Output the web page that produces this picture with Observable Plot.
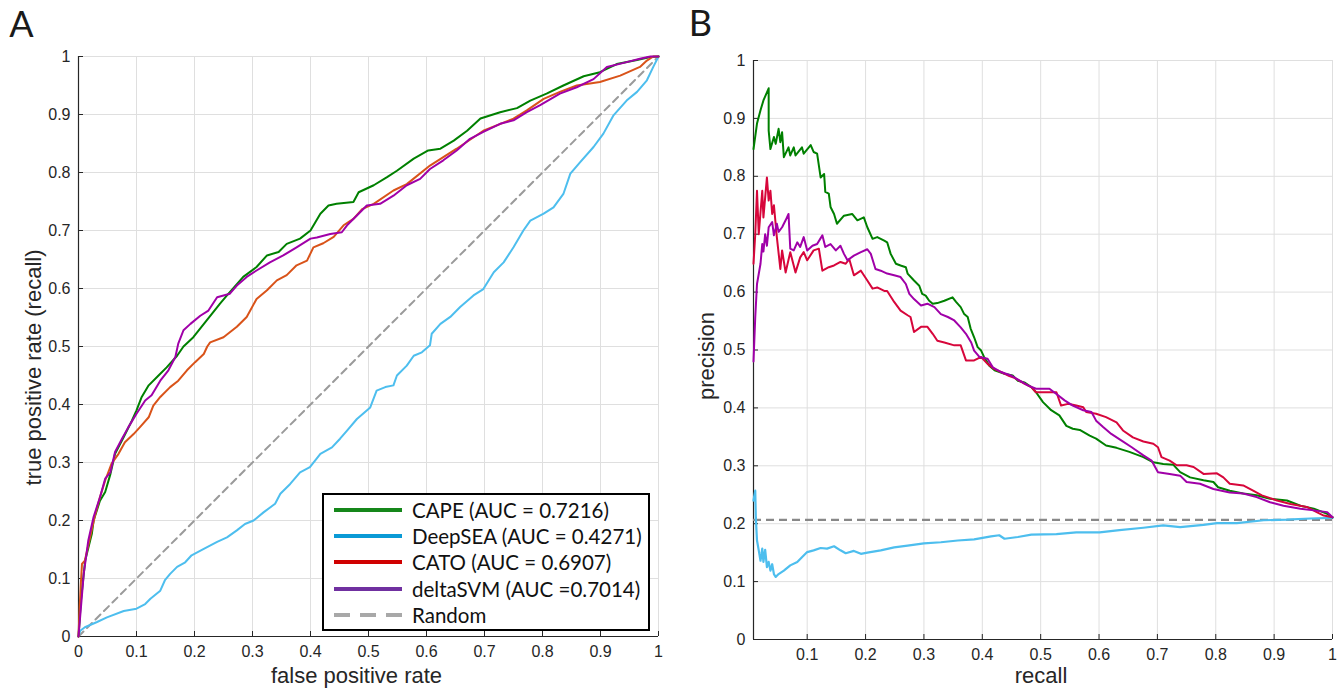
<!DOCTYPE html>
<html>
<head>
<meta charset="utf-8">
<script src="https://cdn.jsdelivr.net/npm/d3@7"></script>
<script src="https://cdn.jsdelivr.net/npm/@observablehq/plot@0.6"></script>
<style>
  body { margin: 0; background: #fff; }
  #wrap { position: relative; width: 1342px; height: 689px; display: flex; overflow: hidden; }
  #wrap svg { display: block; }
  #legend { position: absolute; left: 322px; top: 493px; width: 324px; height: 134px; border: 2px solid #000; background: #fff;
            font-family: Lato, "Open Sans", sans-serif; font-size: 20.5px; color: #111; }
  .row { position: absolute; left: 0; height: 26px; width: 324px; }
  .sw { position: absolute; left: 10px; top: 11px; width: 68px; height: 4px; }
  .lab { position: absolute; left: 88px; top: 0; line-height: 26px; white-space: nowrap; }
</style>
</head>
<body>
<div id="wrap"></div>
<script>
// ---------- data ----------
const ticks01 = [0, 0.1, 0.2, 0.3, 0.4, 0.5, 0.6, 0.7, 0.8, 0.9, 1];
const ticksRecall = [0.1, 0.2, 0.3, 0.4, 0.5, 0.6, 0.7, 0.8, 0.9, 1];

const seriesNames = ["CAPE", "DeepSEA", "CATO", "deltaSVM"];
const legendLabels = ["CAPE (AUC = 0.7216)", "DeepSEA (AUC = 0.4271)", "CATO (AUC = 0.6907)", "deltaSVM (AUC =0.7014)", "Random"];
const legendColors = ["#15871a", "#0a9ad6", "#d00000", "#7030a0", "#a8a8a8"];

// ROC curves: [false positive rate, true positive rate]
const rocCAPE = [[0,0],[0.004,0.06],[0.0115,0.131],[0.023,0.177],[0.026,0.2],[0.037,0.234],[0.046,0.249],[0.055,0.28],[0.063,0.315],[0.078,0.344],[0.092,0.372],[0.10,0.39],[0.109,0.413],[0.121,0.433],[0.138,0.45],[0.152,0.464],[0.17,0.484],[0.181,0.5],[0.198,0.516],[0.221,0.545],[0.244,0.574],[0.256,0.588],[0.284,0.62],[0.307,0.637],[0.325,0.657],[0.345,0.663],[0.359,0.677],[0.382,0.686],[0.40,0.70],[0.417,0.729],[0.431,0.743],[0.445,0.746],[0.474,0.749],[0.483,0.766],[0.509,0.778],[0.532,0.792],[0.549,0.803],[0.578,0.824],[0.603,0.838],[0.624,0.841],[0.647,0.855],[0.670,0.872],[0.693,0.893],[0.727,0.904],[0.756,0.911],[0.779,0.924],[0.807,0.936],[0.836,0.95],[0.871,0.966],[0.899,0.973],[0.928,0.987],[0.963,0.994],[0.986,0.999],[1,1]];
const rocDeepSEA = [[0,0],[0.003,0.01],[0.011,0.016],[0.032,0.025],[0.049,0.033],[0.078,0.044],[0.10,0.048],[0.115,0.056],[0.124,0.065],[0.141,0.079],[0.149,0.097],[0.158,0.108],[0.17,0.12],[0.184,0.128],[0.195,0.14],[0.216,0.151],[0.239,0.163],[0.256,0.171],[0.273,0.183],[0.287,0.194],[0.302,0.2],[0.319,0.214],[0.339,0.229],[0.348,0.246],[0.365,0.263],[0.382,0.283],[0.399,0.292],[0.417,0.315],[0.437,0.326],[0.451,0.341],[0.463,0.355],[0.48,0.375],[0.503,0.395],[0.514,0.424],[0.529,0.43],[0.543,0.433],[0.549,0.45],[0.566,0.467],[0.578,0.484],[0.592,0.49],[0.606,0.502],[0.609,0.522],[0.624,0.539],[0.641,0.551],[0.658,0.568],[0.681,0.588],[0.698,0.599],[0.716,0.628],[0.733,0.645],[0.75,0.671],[0.767,0.70],[0.779,0.717],[0.802,0.729],[0.819,0.74],[0.836,0.763],[0.848,0.798],[0.865,0.818],[0.888,0.844],[0.905,0.867],[0.922,0.898],[0.945,0.924],[0.963,0.939],[0.98,0.959],[0.991,0.982],[1,1]];
const rocCATO = [[0,0],[0.002,0.05],[0.004,0.09],[0.006,0.125],[0.011,0.131],[0.02,0.171],[0.029,0.211],[0.037,0.24],[0.046,0.269],[0.057,0.298],[0.069,0.315],[0.08,0.335],[0.095,0.349],[0.106,0.361],[0.121,0.378],[0.129,0.398],[0.141,0.413],[0.158,0.43],[0.172,0.441],[0.187,0.459],[0.201,0.473],[0.216,0.487],[0.222,0.5],[0.227,0.507],[0.25,0.516],[0.273,0.534],[0.29,0.551],[0.307,0.582],[0.325,0.597],[0.342,0.614],[0.359,0.623],[0.376,0.64],[0.394,0.648],[0.405,0.671],[0.422,0.678],[0.44,0.689],[0.457,0.709],[0.474,0.72],[0.489,0.737],[0.509,0.746],[0.543,0.769],[0.566,0.78],[0.606,0.812],[0.652,0.841],[0.698,0.872],[0.75,0.893],[0.773,0.907],[0.802,0.927],[0.83,0.939],[0.859,0.95],[0.899,0.956],[0.934,0.967],[0.968,0.982],[0.98,0.993],[0.991,1],[1,1]];
const rocDeltaSVM = [[0,0],[0.009,0.108],[0.017,0.166],[0.026,0.206],[0.037,0.24],[0.046,0.272],[0.055,0.283],[0.063,0.318],[0.075,0.341],[0.086,0.361],[0.10,0.384],[0.115,0.407],[0.126,0.416],[0.141,0.441],[0.155,0.459],[0.167,0.482],[0.172,0.505],[0.181,0.528],[0.193,0.539],[0.21,0.553],[0.224,0.562],[0.239,0.585],[0.261,0.591],[0.273,0.605],[0.29,0.62],[0.307,0.631],[0.33,0.645],[0.353,0.657],[0.376,0.671],[0.40,0.686],[0.411,0.688],[0.434,0.694],[0.454,0.697],[0.463,0.709],[0.48,0.726],[0.497,0.743],[0.52,0.746],[0.543,0.76],[0.566,0.778],[0.589,0.789],[0.606,0.806],[0.629,0.821],[0.652,0.838],[0.675,0.858],[0.698,0.87],[0.727,0.884],[0.75,0.89],[0.773,0.904],[0.796,0.916],[0.83,0.936],[0.859,0.947],[0.888,0.961],[0.911,0.982],[0.94,0.989],[0.968,0.996],[0.986,1],[1,1]];
const rocRandom = [[0,0],[1,1]];

// Precision-recall curves: [recall, precision]
const prCAPE = [[0.008,0.847],[0.014,0.891],[0.02,0.914],[0.025,0.931],[0.034,0.952],[0.034,0.879],[0.037,0.847],[0.043,0.868],[0.046,0.856],[0.051,0.882],[0.054,0.859],[0.057,0.876],[0.06,0.833],[0.068,0.85],[0.071,0.836],[0.077,0.85],[0.08,0.836],[0.091,0.85],[0.094,0.839],[0.106,0.854],[0.111,0.842],[0.117,0.839],[0.123,0.798],[0.129,0.804],[0.131,0.773],[0.137,0.77],[0.14,0.747],[0.146,0.735],[0.151,0.718],[0.163,0.732],[0.177,0.735],[0.186,0.724],[0.197,0.729],[0.203,0.712],[0.212,0.692],[0.22,0.695],[0.232,0.689],[0.237,0.686],[0.243,0.666],[0.252,0.649],[0.26,0.646],[0.269,0.643],[0.272,0.632],[0.283,0.62],[0.292,0.611],[0.297,0.597],[0.303,0.594],[0.309,0.585],[0.315,0.58],[0.323,0.581],[0.335,0.585],[0.349,0.591],[0.355,0.583],[0.363,0.574],[0.369,0.562],[0.375,0.557],[0.38,0.537],[0.386,0.522],[0.392,0.505],[0.398,0.499],[0.403,0.488],[0.412,0.473],[0.421,0.465],[0.438,0.459],[0.452,0.456],[0.461,0.447],[0.472,0.444],[0.484,0.436],[0.492,0.427],[0.504,0.41],[0.518,0.396],[0.532,0.387],[0.544,0.369],[0.555,0.364],[0.567,0.362],[0.584,0.352],[0.595,0.347],[0.612,0.335],[0.63,0.331],[0.652,0.324],[0.676,0.315],[0.693,0.306],[0.71,0.303],[0.727,0.302],[0.739,0.289],[0.756,0.28],[0.779,0.275],[0.796,0.272],[0.804,0.263],[0.824,0.257],[0.847,0.252],[0.87,0.249],[0.893,0.243],[0.922,0.24],[0.945,0.231],[0.968,0.226],[0.991,0.217],[1,0.211]];
const prDeepSEA = [[0.008,0.24],[0.011,0.257],[0.012,0.21],[0.014,0.171],[0.017,0.154],[0.02,0.136],[0.023,0.157],[0.025,0.134],[0.028,0.155],[0.031,0.125],[0.034,0.134],[0.037,0.119],[0.04,0.13],[0.043,0.113],[0.046,0.108],[0.051,0.113],[0.06,0.119],[0.071,0.128],[0.083,0.134],[0.091,0.142],[0.10,0.151],[0.111,0.154],[0.123,0.158],[0.134,0.157],[0.146,0.161],[0.157,0.154],[0.166,0.149],[0.18,0.153],[0.192,0.148],[0.203,0.15],[0.226,0.154],[0.249,0.159],[0.272,0.162],[0.3,0.166],[0.329,0.168],[0.358,0.171],[0.386,0.173],[0.415,0.178],[0.429,0.18],[0.438,0.174],[0.461,0.177],[0.484,0.181],[0.527,0.182],[0.561,0.185],[0.601,0.185],[0.635,0.189],[0.676,0.193],[0.71,0.197],[0.739,0.194],[0.779,0.198],[0.802,0.201],[0.836,0.201],[0.882,0.206],[0.922,0.207],[0.962,0.209],[1,0.21]];
const prCATO = [[0.008,0.649],[0.011,0.70],[0.014,0.775],[0.017,0.70],[0.023,0.775],[0.025,0.729],[0.031,0.798],[0.034,0.758],[0.037,0.775],[0.04,0.735],[0.043,0.75],[0.048,0.695],[0.054,0.64],[0.057,0.672],[0.063,0.634],[0.071,0.669],[0.08,0.634],[0.088,0.66],[0.094,0.669],[0.10,0.655],[0.111,0.672],[0.12,0.675],[0.126,0.637],[0.137,0.643],[0.146,0.646],[0.157,0.652],[0.166,0.649],[0.172,0.657],[0.18,0.629],[0.192,0.637],[0.203,0.62],[0.212,0.606],[0.22,0.608],[0.232,0.602],[0.237,0.602],[0.249,0.583],[0.26,0.568],[0.272,0.56],[0.277,0.557],[0.283,0.531],[0.295,0.54],[0.306,0.54],[0.315,0.528],[0.323,0.516],[0.335,0.513],[0.352,0.508],[0.363,0.508],[0.372,0.482],[0.386,0.482],[0.398,0.488],[0.409,0.476],[0.421,0.467],[0.432,0.462],[0.444,0.456],[0.455,0.452],[0.472,0.442],[0.484,0.436],[0.492,0.427],[0.515,0.427],[0.527,0.427],[0.535,0.404],[0.547,0.407],[0.561,0.404],[0.573,0.401],[0.578,0.393],[0.595,0.39],[0.612,0.384],[0.63,0.375],[0.641,0.361],[0.658,0.349],[0.676,0.342],[0.693,0.338],[0.701,0.332],[0.707,0.315],[0.721,0.309],[0.733,0.301],[0.75,0.301],[0.762,0.298],[0.779,0.286],[0.802,0.287],[0.813,0.28],[0.824,0.269],[0.847,0.266],[0.864,0.257],[0.879,0.249],[0.905,0.24],[0.928,0.234],[0.956,0.229],[0.973,0.22],[0.985,0.214],[1,0.211]];
const prDeltaSVM = [[0.008,0.48],[0.011,0.557],[0.014,0.614],[0.02,0.649],[0.023,0.683],[0.025,0.67],[0.028,0.70],[0.031,0.68],[0.034,0.712],[0.04,0.721],[0.043,0.698],[0.048,0.718],[0.051,0.704],[0.057,0.712],[0.063,0.724],[0.068,0.735],[0.071,0.675],[0.077,0.672],[0.083,0.686],[0.088,0.678],[0.094,0.695],[0.10,0.672],[0.109,0.68],[0.117,0.683],[0.126,0.698],[0.131,0.678],[0.14,0.683],[0.149,0.672],[0.157,0.68],[0.163,0.666],[0.169,0.655],[0.18,0.663],[0.192,0.669],[0.203,0.674],[0.209,0.666],[0.217,0.64],[0.226,0.637],[0.237,0.632],[0.249,0.629],[0.26,0.626],[0.269,0.614],[0.275,0.597],[0.283,0.588],[0.295,0.577],[0.306,0.58],[0.318,0.574],[0.329,0.562],[0.341,0.557],[0.352,0.551],[0.363,0.539],[0.372,0.528],[0.381,0.513],[0.386,0.499],[0.395,0.488],[0.409,0.485],[0.418,0.47],[0.432,0.462],[0.449,0.456],[0.464,0.447],[0.478,0.439],[0.492,0.433],[0.515,0.433],[0.527,0.424],[0.541,0.413],[0.555,0.404],[0.573,0.396],[0.587,0.393],[0.595,0.378],[0.607,0.367],[0.621,0.355],[0.638,0.344],[0.656,0.332],[0.676,0.318],[0.69,0.309],[0.701,0.289],[0.721,0.286],[0.739,0.283],[0.75,0.272],[0.773,0.269],[0.796,0.26],[0.824,0.254],[0.847,0.252],[0.87,0.246],[0.893,0.237],[0.916,0.231],[0.945,0.226],[0.968,0.223],[0.991,0.22],[1,0.211]];
const prRandom = [0.2067];

// ---------- drawing ----------
const AXIS = "#262626";
const GRID = "#dfdfdf";
const fmt = d => String(d);

function frameMarks(xt, yt, xMin, plotW, plotH) {
  return [
    Plot.gridX(xt, {stroke: GRID, strokeOpacity: 1}),
    Plot.gridY(ticks01, {stroke: GRID, strokeOpacity: 1}),
    Plot.ruleX([xMin], {stroke: AXIS, strokeWidth: 1.2}),
    Plot.ruleY([0], {stroke: AXIS, strokeWidth: 1.2}),
    Plot.ruleX(xt, {stroke: AXIS, insetTop: plotH - 5}),
    Plot.ruleY(yt, {stroke: AXIS, insetRight: plotW - 5}),
    Plot.axisX(xt, {tickSize: 0, tickPadding: 9, tickFormat: fmt, label: null, fontSize: 16, fill: AXIS}),
    Plot.axisY(yt, {tickSize: 0, tickPadding: 8, tickFormat: fmt, label: null, fontSize: 16, fill: AXIS})
  ];
}

const lineOpts = (stroke, w) => ({x: d => d[0], y: d => d[1], stroke, strokeWidth: w});
const titleOpts = {fontSize: 22, fill: AXIS, textAnchor: "middle", lineAnchor: "middle"};
const letterOpts = {fontSize: 36, fontFamily: "Lato, 'Open Sans', sans-serif", fill: "#1a1a1a", textAnchor: "middle", lineAnchor: "middle"};

const plotA = Plot.plot({
  width: 671, height: 689,
  marginLeft: 78, marginRight: 13, marginTop: 56, marginBottom: 53,
  x: {domain: [0, 1]},
  y: {domain: [0, 1]},
  style: {fontFamily: "'Liberation Sans', Arial, sans-serif", fontSize: "16px", color: AXIS, background: "white", overflow: "visible"},
  marks: [
    ...frameMarks(ticks01, ticks01, 0, 580, 580),
    Plot.line(rocRandom, {...lineOpts("#9a9a9a", 2), strokeDasharray: "7,5"}),
    Plot.line(rocDeepSEA, lineOpts("#4DBEEE", 2)),
    Plot.line(rocCAPE, lineOpts("#008000", 2)),
    Plot.line(rocCATO, lineOpts("#D95319", 2)),
    Plot.line(rocDeltaSVM, lineOpts("#A000A8", 2)),
    Plot.text(["false positive rate"], {...titleOpts, frameAnchor: "bottom", dx: -12, dy: 39}),
    Plot.text(["true positive rate (recall)"], {...titleOpts, frameAnchor: "left", rotate: -90, dx: -45, dy: 21}),
    Plot.text(["A"], {...letterOpts, frameAnchor: "top-left", dx: -57, dy: -31})
  ]
});

const plotB = Plot.plot({
  width: 671, height: 689,
  marginLeft: 82, marginRight: 10, marginTop: 60, marginBottom: 50,
  x: {domain: [0.008, 1]},
  y: {domain: [0, 1]},
  style: {fontFamily: "'Liberation Sans', Arial, sans-serif", fontSize: "16px", color: AXIS, background: "white", overflow: "visible"},
  marks: [
    ...frameMarks(ticksRecall, ticks01, 0.008, 579, 579),
    Plot.ruleY(prRandom, {stroke: "#888888", strokeWidth: 2.2, strokeDasharray: "8,5"}),
    Plot.line(prDeepSEA, lineOpts("#4DBEEE", 2.2)),
    Plot.line(prCAPE, lineOpts("#008000", 2)),
    Plot.line(prCATO, lineOpts("#D7063B", 2)),
    Plot.line(prDeltaSVM, lineOpts("#A000A8", 2)),
    Plot.text(["recall"], {...titleOpts, frameAnchor: "bottom", dx: -2, dy: 36}),
    Plot.text(["precision"], {...titleOpts, frameAnchor: "left", rotate: -90, dx: -47, dy: 6}),
    Plot.text(["B"], {...letterOpts, frameAnchor: "top-left", dx: -53, dy: -36})
  ]
});

const wrap = document.getElementById("wrap");
wrap.appendChild(plotA);
wrap.appendChild(plotB);

// legend for panel A
const legend = document.createElement("div");
legend.id = "legend";
legendLabels.forEach((label, i) => {
  const row = document.createElement("div");
  row.className = "row";
  row.style.top = (2 + i * 26.2) + "px";
  const sw = document.createElement("div");
  sw.className = "sw";
  if (label === "Random") {
    sw.style.background = `repeating-linear-gradient(90deg, ${legendColors[i]} 0 16px, transparent 16px 26px)`;
  } else {
    sw.style.background = legendColors[i];
  }
  const lab = document.createElement("div");
  lab.className = "lab";
  lab.textContent = label;
  row.appendChild(sw);
  row.appendChild(lab);
  legend.appendChild(row);
});
wrap.appendChild(legend);
</script>
</body>
</html>
